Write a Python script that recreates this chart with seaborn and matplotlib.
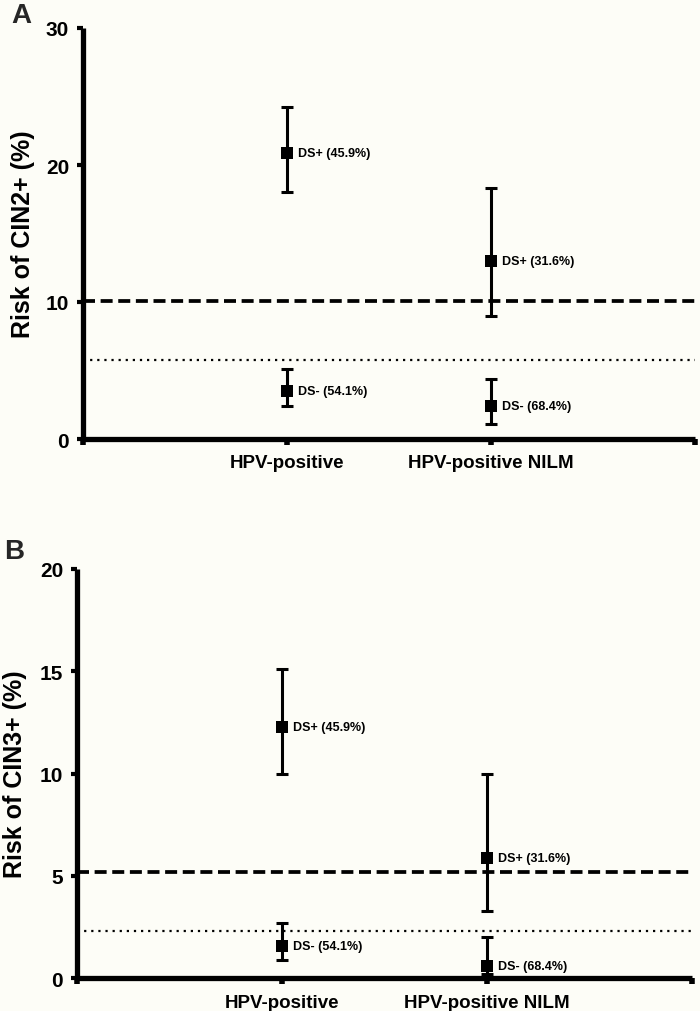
import matplotlib
matplotlib.use("Agg")
import matplotlib.pyplot as plt
import seaborn as sns
import pandas as pd

# ---------------- data ----------------
categories = ["HPV-positive", "HPV-positive NILM"]
cat_pos = [1, 2]

# Panel A: CIN2+
cin2_pos = [20.9, 13.0]
cin2_pos_lo = [18.0, 9.0]
cin2_pos_hi = [24.2, 18.3]
cin2_neg = [3.5, 2.4]
cin2_neg_lo = [2.4, 1.1]
cin2_neg_hi = [5.1, 4.4]
cin2_dashed = 10.1
cin2_dotted = 5.8

# Panel B: CIN3+
cin3_pos = [12.3, 5.9]
cin3_pos_lo = [10.0, 3.3]
cin3_pos_hi = [15.1, 10.0]
cin3_neg = [1.6, 0.6]
cin3_neg_lo = [0.9, 0.2]
cin3_neg_hi = [2.7, 2.0]
cin3_dashed = 5.2
cin3_dotted = 2.3

pos_labels = ["DS+ (45.9%)", "DS+ (31.6%)"]
neg_labels = ["DS- (54.1%)", "DS- (68.4%)"]

# ---------------- style ----------------
sns.set_theme(style="ticks")
BG = "#fdfdf7"
plt.rcParams["font.family"] = ["Liberation Sans", "DejaVu Sans"]
plt.rcParams["font.weight"] = "bold"

fig = plt.figure(figsize=(7, 10.12), dpi=100)
fig.patch.set_facecolor(BG)

ax1 = fig.add_axes([83 / 700, 572 / 1012, 612 / 700, 411 / 1012])
ax2 = fig.add_axes([77 / 700, 32.7 / 1012, 615 / 700, 409.3 / 1012])


def draw_panel(ax, pos, pos_lo, pos_hi, neg, neg_lo, neg_hi, dashed, dotted,
               ymax, yticks, ylabel, label_x):
    ax.set_facecolor(BG)
    ax.axhline(dashed, color="black", lw=2.7, dashes=(3.2, 1.5), zorder=1)
    ax.axhline(dotted, color="black", lw=1.6, dashes=(1, 2.2), zorder=1)

    rows = []
    for i, c in enumerate(categories):
        rows.append(dict(cat=c, x=cat_pos[i], y=pos[i], lo=pos_lo[i], hi=pos_hi[i], lab=pos_labels[i]))
        rows.append(dict(cat=c, x=cat_pos[i], y=neg[i], lo=neg_lo[i], hi=neg_hi[i], lab=neg_labels[i]))
    df = pd.DataFrame(rows)

    ax.errorbar(df["x"], df["y"], yerr=[df["y"] - df["lo"], df["hi"] - df["y"]],
                fmt="none", ecolor="black", elinewidth=2.2, capsize=4.5,
                capthick=2.2, zorder=2)
    sns.scatterplot(data=df, x="x", y="y", marker="s", s=80, color="black",
                    edgecolor="black", linewidth=0, ax=ax, zorder=3, legend=False)
    for _, r in df.iterrows():
        ax.annotate(r["lab"], (r["x"], r["y"]), xytext=(8, 0),
                    textcoords="offset points", va="center", ha="left",
                    fontsize=9, fontweight="bold", color="black")

    ax.set_xlim(0, 3)
    ax.set_ylim(0, ymax)
    ax.set_xticks([0, 1, 2, 3])
    ax.set_xticklabels(["", categories[0], categories[1], ""],
                       fontsize=13.5, fontweight="bold")
    ax.set_yticks(yticks)
    ax.set_yticklabels([str(t) for t in yticks], fontsize=15, fontweight="bold")
    ax.tick_params(axis="x", length=4, width=4, pad=7, colors="black")
    ax.tick_params(axis="y", length=4, width=3, pad=6, colors="black")
    ax.set_xlabel("")
    ax.set_ylabel(ylabel, fontsize=18, fontweight="bold", color="black")
    ax.yaxis.set_label_coords(label_x, 0.5)
    for s in ["top", "right"]:
        ax.spines[s].set_visible(False)
    for s in ["left", "bottom"]:
        ax.spines[s].set_linewidth(3.8)
        ax.spines[s].set_color("black")
        ax.spines[s].set_capstyle("butt")


draw_panel(ax1, cin2_pos, cin2_pos_lo, cin2_pos_hi, cin2_neg, cin2_neg_lo, cin2_neg_hi,
           cin2_dashed, cin2_dotted, 30, [0, 10, 20, 30], "Risk of CIN2+ (%)", -0.078)
draw_panel(ax2, cin3_pos, cin3_pos_lo, cin3_pos_hi, cin3_neg, cin3_neg_lo, cin3_neg_hi,
           cin3_dashed, cin3_dotted, 20, [0, 5, 10, 15, 20], "Risk of CIN3+ (%)", -0.082)

fig.text(11 / 700, 1 - 23 / 1012, "A", fontsize=20, fontweight="bold", va="baseline", ha="left")
fig.text(4 / 700, 1 - 559 / 1012, "B", fontsize=20, fontweight="bold", va="baseline", ha="left")

fig.savefig("out.png", dpi=100, facecolor=BG)
